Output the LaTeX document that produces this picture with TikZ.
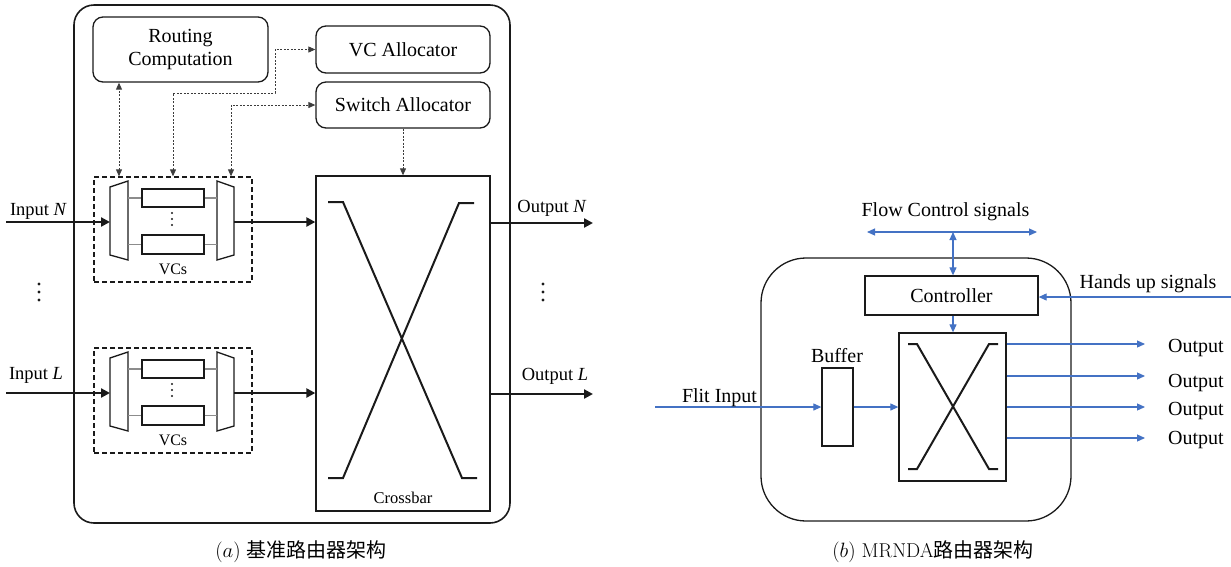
\documentclass[tikz,border=0pt]{standalone}
\usepackage{fontspec}
\newfontfamily\tms{Liberation Serif}
\newfontfamily\cjk{Noto Sans CJK SC}
\usetikzlibrary{arrows.meta}
\definecolor{ink}{HTML}{1A1A1A}
\definecolor{sig}{HTML}{4472C4}
\definecolor{link}{HTML}{8C8C8C}
\begin{document}
\begin{tikzpicture}[x=1pt,y=-1pt,
  txt/.style={font=\tms\fontsize{20}{23}\selectfont, inner sep=0pt},
  io/.style={font=\tms\fontsize{18.5}{21}\selectfont, inner sep=0pt, anchor=base},
  small/.style={font=\tms\fontsize{16.5}{19}\selectfont, inner sep=0pt, anchor=base},
  unit/.style={draw=ink, line width=1.3pt, rounded corners=10pt, inner sep=0pt, txt, align=center},
  plainbox/.style={draw=ink, line width=1.3pt, inner sep=0pt},
  vcgroup/.style={draw=ink, line width=1.3pt, dash pattern=on 5pt off 3pt, inner sep=0pt},
  ctrl/.style={draw=ink!85, line width=0.9pt, dash pattern=on 2pt off 1.5pt, -{Triangle[length=7pt,width=6pt]}},
  ctrlboth/.style={ctrl, {Triangle[length=7pt,width=6pt]}-{Triangle[length=7pt,width=6pt]}},
  data/.style={draw=ink, line width=2.6pt, -{Triangle[length=9pt,width=9pt]}},
  swline/.style={draw=ink, line width=2pt},
  sigarrow/.style={draw=sig, line width=1.1pt, -{Triangle[length=8pt,width=7pt]}},
  sigboth/.style={sigarrow, {Triangle[length=8pt,width=7pt]}-{Triangle[length=8pt,width=7pt]}},
  dot/.style={fill=ink, draw=none},
]
\useasboundingbox (0,0) rectangle (1231,566);

% ---------------- (a) baseline router ----------------
\node[draw=ink, line width=1.6pt, rounded corners=20pt, minimum width=436pt, minimum height=518pt, inner sep=0pt] (routerA) at (292,264) {};

\node[unit, minimum width=175pt, minimum height=65pt] (rc) at (180.5,49.5) {Routing\\Computation};
\node[unit, minimum width=174pt, minimum height=47pt] (vca) at (403,49.5) {VC Allocator};
\node[unit, minimum width=174pt, minimum height=46pt] (sa) at (403,105) {Switch Allocator};
\node[plainbox, minimum width=174pt, minimum height=335pt] (xbar) at (403,343.5) {};
\node[small] (xbarlbl) at (403,503) {Crossbar};

% crossbar switch lines
\draw[swline] (328,202) -- (343,202) -- (462,478) -- (477,478);
\draw[swline] (474,203) -- (459,203) -- (343,478) -- (328,478);

% input ports with their virtual channels
\foreach \Y/\n in {222/N,393/L}{
  \node[vcgroup, minimum width=158pt, minimum height=105pt] (vc\n) at (173,\Y+7.5) {};
  \draw[ink, line width=1.3pt] (110,\Y-35) -- (128,\Y-41) -- (128,\Y+38) -- (110,\Y+33) -- cycle;
  \draw[ink, line width=1.3pt] (217,\Y-41) -- (234,\Y-35) -- (234,\Y+33) -- (217,\Y+38) -- cycle;
  \coordinate (dmx\n) at (110,\Y);
  \coordinate (mx\n) at (234,\Y);
  \node[plainbox, line width=1.2pt, minimum width=62pt, minimum height=18pt] (bufa\n) at (173,\Y-24) {};
  \node[plainbox, line width=1.2pt, minimum width=62pt, minimum height=19pt] (bufb\n) at (173,\Y+22.5) {};
  \draw[link, line width=1.2pt] (128,\Y-24) -- (bufa\n.west) (bufa\n.east) -- (217,\Y-24);
  \draw[link, line width=1.2pt] (128,\Y+22.5) -- (bufb\n.west) (bufb\n.east) -- (217,\Y+22.5);
  \foreach \d in {-9,-3,3} \fill[dot] (172,\Y+\d) circle (1.1pt);
  \node[small, font=\tms\fontsize{16}{19}\selectfont] (vclbl\n) at (173,\Y+52) {VCs};
  \coordinate (in\n) at (6,\Y);
  \draw[data] (in\n) -- (dmx\n);
  \draw[data] (mx\n) -- (xbar.west |- mx\n);
  \coordinate (out\n) at (593,\Y+1);
  \draw[data] (xbar.east |- out\n) -- (out\n);
}

\node[io] (inNlbl) at (38.5,215) {Input \textit{N}};
\node[io] (inLlbl) at (36,379) {Input \textit{L}};
\node[io] (outNlbl) at (552,212) {Output \textit{N}};
\node[io] (outLlbl) at (555,380) {Output \textit{L}};

\foreach \yy in {284,292,300}{
  \fill[dot] (39,\yy) circle (1.6pt);
  \fill[dot] (543,\yy) circle (1.6pt);
}

% control paths
\coordinate (tapA) at (119,0);
\coordinate (tapB) at (173,0);
\coordinate (tapC) at (231,0);
\coordinate (jogB) at (275,93);
\draw[ctrlboth] (vcN.north -| tapA) -- (rc.south -| tapA);
\draw[ctrlboth] (vcN.north -| tapB) |- (jogB) |- (vca.west);
\draw[ctrlboth] (vcN.north -| tapC) |- (sa.west);
\draw[ctrl] (sa.south) -- (xbar.north);

% ---------------- (b) MRNDA router ----------------
\node[draw=ink, line width=1.3pt, rounded corners=45pt, minimum width=310pt, minimum height=263pt, inner sep=0pt] (routerB) at (916,389.5) {};
\node[plainbox, txt, minimum width=173pt, minimum height=39pt] (ctl) at (951.5,295.5) {Controller};
\node[plainbox, minimum width=107pt, minimum height=148pt] (xbarB) at (952.5,407) {};
\node[plainbox, minimum width=31pt, minimum height=78pt] (buf) at (837.5,407) {};
\node[txt, anchor=base] (buflbl) at (837,362) {Buffer};

\draw[swline] (908,344) -- (917,344) -- (989,469) -- (998,469);
\draw[swline] (998,344) -- (989,344) -- (917,469) -- (908,469);

\coordinate (flit) at (655,407);
\draw[sigarrow] (flit) -- (buf.west);
\draw[sigarrow] (buf.east) -- (xbarB.west);
\node[txt, anchor=base] (flitlbl) at (719.5,402) {Flit Input};

\coordinate (fcL) at (867,232);
\coordinate (fcR) at (1037,232);
\coordinate (fcM) at (953,232);
\draw[sigboth] (fcL) -- (fcR);
\draw[sigboth] (fcM) -- (ctl.north -| fcM);
\draw[sigarrow] (ctl.south -| fcM) -- (xbarB.north -| fcM);
\node[txt, anchor=base] (fclbl) at (945.5,216) {Flow Control signals};

\coordinate (hands) at (1231,297);
\draw[sigarrow] (hands) -- (ctl.east |- hands);
\node[txt, anchor=base] (handslbl) at (1148,288) {Hands up signals};

\foreach \y/\b [count=\i] in {344/352,376/387,407/415,438/444}{
  \coordinate (o\i) at (1145,\y);
  \draw[sigarrow] (xbarB.east |- o\i) -- (o\i);
  \node[txt, anchor=base west] (olbl\i) at (1168,\b) {Output};
}

% ---------------- captions ----------------
\node[anchor=base, inner sep=0pt, font=\fontsize{20}{24}\selectfont] (capA) at (301,557) {$(a)$\ {\cjk 基准路由器架构}};
\node[anchor=base, inner sep=0pt, font=\fontsize{20}{24}\selectfont] (capB) at (933,557) {$(b)$\ MRNDA{\cjk 路由器架构}};
\end{tikzpicture}
\end{document}
